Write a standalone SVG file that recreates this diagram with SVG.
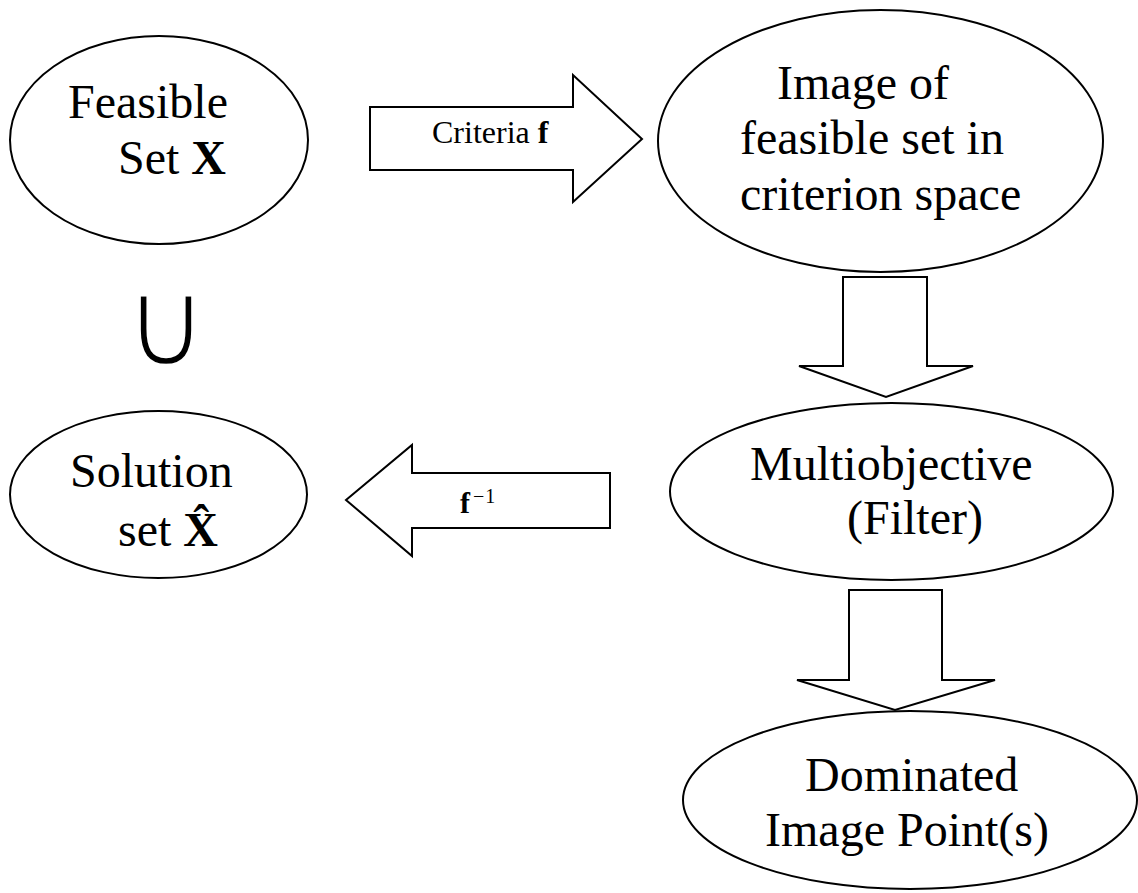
<svg xmlns="http://www.w3.org/2000/svg" width="1138" height="893" viewBox="0 0 1138 893">
<style>
.shape{fill:#fff;stroke:#000;stroke-width:2}
.t{font-family:"Liberation Serif","Times New Roman",serif;font-size:48px;fill:#000}
.b{font-weight:bold}
.sm{font-family:"Liberation Serif","Times New Roman",serif;font-size:32px;fill:#000}
</style>
<rect width="1138" height="893" fill="#fff"/>
<g id="connectors">
<polygon class="shape" points="370,107 573,107 573,75 642,139 573,202 573,170 370,170"/>
<polygon class="shape" points="610,473 412,473 412,445 346,500 412,556 412,528 610,528"/>
<polygon class="shape" points="843,277 927,277 927,366 973,366 886,397 799,366 843,366"/>
<polygon class="shape" points="849,590 942,590 942,680 995,680 895,710 797,680 849,680"/>
<text class="sm" x="432" y="143">Criteria <tspan class="b">f</tspan></text>
<text x="460" y="513" font-family="Liberation Serif, serif" font-size="30" font-weight="bold">f</text>
<text x="473" y="503" font-family="Liberation Serif, serif" font-size="20" letter-spacing="1">−1</text>
</g>
<g id="feasible-set">
<ellipse class="shape" cx="159" cy="140" rx="149" ry="104"/>
<text class="t" x="68" y="118">Feasible</text>
<text class="t" x="118" y="174">Set <tspan class="b">X</tspan></text>
</g>
<g id="union">
<text transform="translate(166,366) scale(1,1.076)" x="0" y="0" text-anchor="middle" font-family="DejaVu Sans, sans-serif" font-size="115" fill="#000" stroke="#fff" stroke-width="4">∪</text>
</g>
<g id="image-set">
<ellipse class="shape" cx="880.5" cy="141" rx="222.5" ry="131"/>
<text class="t" x="777" y="99">Image of</text>
<text class="t" x="740" y="154">feasible set in</text>
<text class="t" x="740" y="210">criterion space</text>
</g>
<g id="multiobjective">
<ellipse class="shape" cx="891.5" cy="491.5" rx="221.5" ry="88.5"/>
<text class="t" x="750" y="480">Multiobjective</text>
<text class="t" x="847" y="534">(Filter)</text>
</g>
<g id="dominated">
<ellipse class="shape" cx="910" cy="800" rx="227" ry="89"/>
<text class="t" x="805" y="791">Dominated</text>
<text class="t" x="765" y="846">Image Point(s)</text>
</g>
<g id="solution-set">
<ellipse class="shape" cx="158.5" cy="494.5" rx="148.5" ry="83.5"/>
<text class="t" x="70" y="487">Solution</text>
<text class="t" x="118" y="546">set <tspan class="b">X̂</tspan></text>
</g>
</svg>
